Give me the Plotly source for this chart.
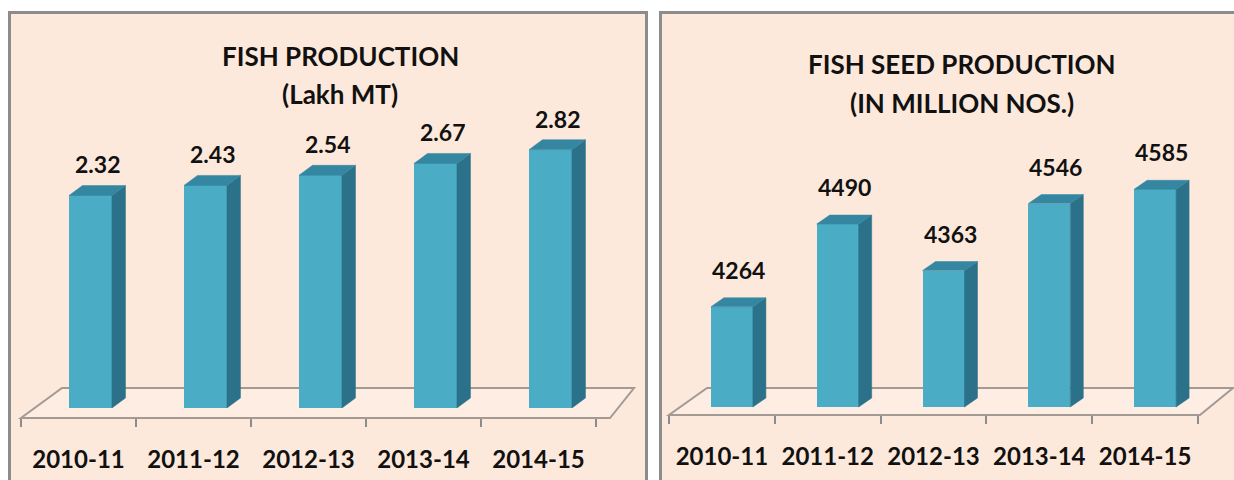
import plotly.graph_objects as go

# ---------------- data ----------------
categories = ["2010-11", "2011-12", "2012-13", "2013-14", "2014-15"]
fish_production = [2.32, 2.43, 2.54, 2.67, 2.82]          # Lakh MT
fish_seed_production = [4264, 4490, 4363, 4546, 4585]     # million nos.
title_left = ["FISH PRODUCTION", "(Lakh MT)"]
title_right = ["FISH SEED PRODUCTION", "(IN MILLION NOS.)"]

# ---------------- style ----------------
W, H = 1234, 480
FONT = "Lato"
BG = "#FDE9DB"
BORDER = "#8C8C8C"
FRONT = "#4BACC6"
SIDE = "#2B7189"
TOP = "#3587A1"
FLOOR_LINE = "#A39A94"
FLOOR_FILL = "#FEEDE2"
TXT = "#111111"

panels = [
    dict(values=fish_production, base=0.0, fmt="{:.2f}", title=title_left,
         slot0=21, slot=115.0, y_base_px=408, ppu=91.6,
         floor=dict(front_y=418, back_y=388, fl=21, fr=610, br=634, bl=62),
         xdom=(10, 646), bar_off=-0.083, bar_w=0.374, depth=(13.5, 10),
         label_shift=31, title_x=340, title_y=(56, 94), ax=""),
    dict(values=fish_seed_production, base=3990.0, fmt="{:d}", title=title_right,
         slot0=669, slot=105.8, y_base_px=407, ppu=0.3659,
         floor=dict(front_y=415, back_y=388, fl=669, fr=1200, br=1233, bl=707),
         xdom=(662, 1234), bar_off=-0.104, bar_w=0.397, depth=(13, 9),
         label_shift=37, title_x=962, title_y=(64, 103), ax="2"),
]

fig = go.Figure()
annotations = []
shapes = [
    dict(type="rect", xref="paper", yref="paper", x0=9.5 / W, x1=646.5 / W,
         y0=-0.1, y1=1 - 12.5 / H, line=dict(color=BORDER, width=3),
         fillcolor=BG, layer="below"),
    dict(type="rect", xref="paper", yref="paper", x0=660.5 / W, x1=1.02,
         y0=-0.1, y1=1 - 12.5 / H, line=dict(color=BORDER, width=3),
         fillcolor=BG, layer="below"),
]

for p in panels:
    def px2x(px, p=p):
        return (px - p["slot0"]) / p["slot"] - 0.5

    def py2v(py, p=p):
        return p["base"] + (p["y_base_px"] - py) / p["ppu"]

    xa = "x" + p["ax"]
    ya = "y" + p["ax"]
    base = p["base"]
    vals = p["values"]
    idx = list(range(len(categories)))
    dx = p["depth"][0] / p["slot"]
    dy = p["depth"][1] / p["ppu"]
    f = p["floor"]

    # floor (3-D base plane), drawn beneath the bars
    pts = [(px2x(f["fl"]), py2v(f["front_y"])), (px2x(f["fr"]), py2v(f["front_y"])),
           (px2x(f["br"]), py2v(f["back_y"])), (px2x(f["bl"]), py2v(f["back_y"]))]
    path = "M " + " L ".join(f"{x},{y}" for x, y in pts) + " Z"
    shapes.append(dict(type="path", xref=xa, yref=ya, path=path,
                       line=dict(color=FLOOR_LINE, width=2), fillcolor=FLOOR_FILL,
                       layer="below"))

    # front faces
    fig.add_trace(go.Bar(x=idx, y=[v - base for v in vals], base=base,
                         width=p["bar_w"], offset=p["bar_off"],
                         marker=dict(color=FRONT, line=dict(width=0)),
                         hoverinfo="skip", showlegend=False, xaxis=xa, yaxis=ya))

    # side and top faces
    sx, sy, tx, ty = [], [], [], []
    for i, v in zip(idx, vals):
        xl = i + p["bar_off"]
        xr = xl + p["bar_w"]
        sx += [xr, xr + dx, xr + dx, xr, xr, None]
        sy += [base, base + dy, v + dy, v, base, None]
        tx += [xl, xl + dx, xr + dx, xr, xl, None]
        ty += [v, v + dy, v + dy, v, v, None]
        annotations.append(dict(x=xl + (p["bar_w"] + dx) / 2, y=v, xref=xa, yref=ya,
                                text=p["fmt"].format(v), showarrow=False,
                                yanchor="middle", yshift=p["label_shift"],
                                font=dict(family=FONT, size=23, color=TXT, weight="bold")))
    fig.add_trace(go.Scatter(x=sx, y=sy, mode="lines", fill="toself", fillcolor=SIDE,
                             line=dict(color=SIDE, width=0.5), hoverinfo="skip",
                             showlegend=False, xaxis=xa, yaxis=ya))
    fig.add_trace(go.Scatter(x=tx, y=ty, mode="lines", fill="toself", fillcolor=TOP,
                             line=dict(color=TOP, width=0.5), hoverinfo="skip",
                             showlegend=False, xaxis=xa, yaxis=ya))

    # titles
    for line, tyy in zip(p["title"], p["title_y"]):
        annotations.append(dict(x=p["title_x"] / W, y=1 - tyy / H, xref="paper", yref="paper",
                                text=line, showarrow=False, xanchor="center", yanchor="middle",
                                font=dict(family=FONT, size=26, color=TXT, weight="bold")))

    xaxis = dict(domain=[p["xdom"][0] / W, p["xdom"][1] / W],
                 range=[px2x(p["xdom"][0]), px2x(p["xdom"][1])],
                 anchor="free", position=1 - f["front_y"] / H,
                 tickmode="array", tickvals=idx, ticktext=categories, ticks="",
                 showline=False, showgrid=False, zeroline=False,
                 tickfont=dict(family=FONT, size=24, color=TXT, weight="bold"),
                 ticklabelstandoff=25,
                 minor=dict(tickmode="array", tickvals=[k - 0.5 for k in range(len(categories) + 1)],
                            ticks="outside", ticklen=8, tickwidth=2, tickcolor=BORDER,
                            showgrid=False),
                 fixedrange=True)
    yaxis = dict(domain=[0, 1 - 14 / H], range=[py2v(480), py2v(14)],
                 visible=False, fixedrange=True)
    fig.update_layout(**{"xaxis" + p["ax"]: xaxis, "yaxis" + p["ax"]: yaxis})

fig.update_layout(width=W, height=H, margin=dict(l=0, r=0, t=0, b=0),
                  paper_bgcolor="white", plot_bgcolor="rgba(0,0,0,0)",
                  showlegend=False, annotations=annotations, shapes=shapes,
                  bargap=0)

fig.write_html("out.html", config={"displayModeBar": False},
               post_script="document.body.style.margin='0';document.body.style.overflow='hidden';")
